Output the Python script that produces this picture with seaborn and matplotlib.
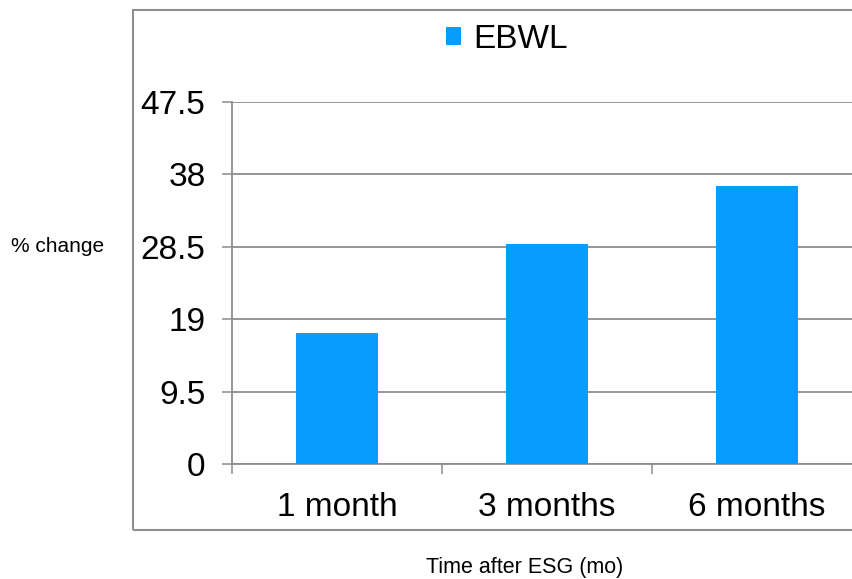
import matplotlib
matplotlib.use("Agg")
import matplotlib.pyplot as plt
from matplotlib.patches import Rectangle
import seaborn as sns
import pandas as pd

# Excess body weight loss after ESG
periods = ["1 month", "3 months", "6 months"]
ebwl = [17.2, 28.9, 36.5]
y_ticks = [0, 9.5, 19, 28.5, 38, 47.5]
y_tick_labels = ["0", "9.5", "19", "28.5", "38", "47.5"]
series_name = "EBWL"

df = pd.DataFrame({"period": periods, "value": ebwl})

sns.set_style("white")
plt.rcParams["font.family"] = ["Liberation Sans", "DejaVu Sans"]

W, H = 853, 579
fig = plt.figure(figsize=(W / 100, H / 100), dpi=100)
ax = fig.add_axes([232 / W, 1 - 464 / H, (862 - 232) / W, (464 - 102) / H])

sns.barplot(data=df, x="period", y="value", color="#069DFF", saturation=1,
            width=0.39, ax=ax, label=series_name, linewidth=0, zorder=3)

grid_c = "#8c8c8c"
ax.set_ylim(0, 47.5)
ax.set_xlim(-0.5, 2.5)
ax.set_yticks(y_ticks)
ax.set_yticklabels(y_tick_labels)
ax.yaxis.grid(True, color=grid_c, linewidth=1.3, zorder=0)
ax.set_axisbelow(True)

for s in ["top", "right"]:
    ax.spines[s].set_visible(False)
for s in ["left", "bottom"]:
    ax.spines[s].set_color(grid_c)
    ax.spines[s].set_linewidth(1.3)

tick_fs = 24
ax.tick_params(axis="y", which="major", left=True, length=7, width=1.1,
               color=grid_c, labelsize=tick_fs, pad=12, labelcolor="black")
ax.tick_params(axis="x", which="major", bottom=True, length=0,
               labelsize=tick_fs, pad=20, labelcolor="black")
ax.set_xticks([-0.5, 0.5, 1.5, 2.5], minor=True)
ax.tick_params(axis="x", which="minor", bottom=True, length=7, width=1.1,
               color=grid_c)

ax.set_xlabel("")
ax.set_ylabel("")

# outer chart frame
fig.patches.append(Rectangle((133 / W, 1 - 530 / H), (900 - 133) / W, (530 - 10) / H,
                             transform=fig.transFigure, fill=False,
                             edgecolor="#8f8f8f", linewidth=1.5, zorder=0))

fig.text(58 / W, 1 - 246 / H, "% change", fontsize=15, ha="center",
         va="center", color="black")
fig.text(525 / W, 1 - 567 / H, "Time after ESG (mo)", fontsize=15.5,
         ha="center", va="center", color="black")

leg = ax.legend(loc="center", bbox_to_anchor=(507 / W, 1 - 39 / H),
                bbox_transform=fig.transFigure, frameon=False, fontsize=tick_fs,
                handlelength=0.45, handleheight=0.45, handletextpad=0.35,
                labelcolor="black")

fig.savefig("out.png", dpi=100)
